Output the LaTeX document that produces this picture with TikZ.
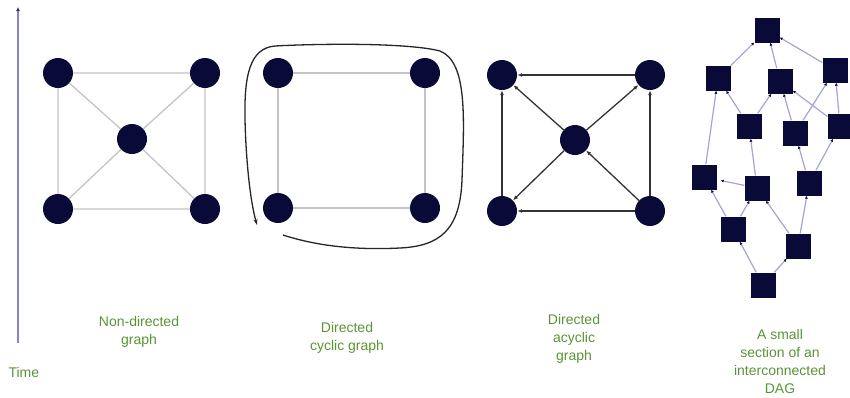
\documentclass[tikz,border=0pt]{standalone}
\usepackage{fontspec}
\setmainfont{Liberation Sans}
\usetikzlibrary{arrows.meta}
\definecolor{navy}{HTML}{0A0A38}
\definecolor{lbl}{HTML}{5A9434}
\definecolor{edgegray}{HTML}{C4C4C4}
\definecolor{dagedge}{HTML}{A4A4D4}
\definecolor{timeaxis}{HTML}{8686C4}
\tikzset{
  dot/.style={circle,fill=navy,minimum size=30pt,inner sep=0pt},
  sq/.style={rectangle,fill=navy,minimum size=25pt,inner sep=0pt},
  ulink/.style={draw=edgegray,line width=1.3pt},
  dlink/.style={draw=black!80,line width=1.3pt,-{Latex[length=5pt,width=4pt]}},
  daglink/.style={draw=dagedge,line width=1.2pt,-{Latex[length=3pt,width=3pt,color=navy]}},
  captxt/.style={text=lbl,font=\fontsize{14}{18}\selectfont,align=center}
}
\begin{document}
\begin{tikzpicture}[x=1pt,y=-1pt]
\useasboundingbox (0,0) rectangle (850,397);
% time axis
\coordinate (t0) at (18,343);
\coordinate (t1) at (18,7);
\draw[timeaxis,line width=1.2pt,-{Latex[length=4pt,width=4pt,color=navy!70!timeaxis]}] (t0) -- (t1);
\node[captxt,anchor=west] (time) at (5,372) {Time};

% graph 1
\node[dot] (a1) at (58,73) {};
\node[dot] (b1) at (205,73) {};
\node[dot] (c1) at (132,139) {};
\node[dot] (d1) at (58,209) {};
\node[dot] (e1) at (205,209) {};
\draw[ulink] (a1) -- (b1) (b1) -- (e1) (e1) -- (d1) (d1) -- (a1)
  (a1) -- (c1) (b1) -- (c1) (d1) -- (c1) (e1) -- (c1);
\node[captxt] (l1) at (139,332) {Non-directed\\graph};

% graph 2
\node[dot] (a2) at (278,73) {};
\node[dot] (b2) at (425,73) {};
\node[dot] (d2) at (278,208) {};
\node[dot] (e2) at (425,208) {};
\draw[ulink] (a2) -- (b2) (b2) -- (e2) (e2) -- (d2) (d2) -- (a2);
\coordinate (cs) at (283,235);
\coordinate (ce) at (257,225);
\draw[black!85,line width=1.3pt,-{Stealth[length=6pt,width=4pt]}] (cs)
  .. controls (320,247) and (360,250) .. (400,248)
  .. controls (440,246) and (460,230) .. (462,180)
  .. controls (464,120) and (468,62) .. (440,51)
  .. controls (405,42) and (310,44) .. (275,46)
  .. controls (250,48) and (244,75) .. (245,120)
  .. controls (246,160) and (250,200) .. (ce);
\node[captxt] (l2) at (347,338) {Directed\\cyclic graph};

% graph 3
\node[dot] (a3) at (502,75) {};
\node[dot] (b3) at (650,75) {};
\node[dot] (c3) at (575,140) {};
\node[dot] (d3) at (502,211) {};
\node[dot] (e3) at (650,211) {};
\draw[dlink] (b3) -- (a3);
\draw[dlink] (c3) -- (a3);
\draw[dlink] (c3) -- (b3);
\draw[dlink] (c3) -- (d3);
\draw[dlink] (e3) -- (c3);
\draw[dlink] (e3) -- (d3);
\draw[dlink] (d3) -- (a3);
\draw[dlink] (e3) -- (b3);
\node[captxt] (l3) at (574,339) {Directed\\acyclic\\graph};

% graph 4
\node[sq] (A) at (767,30) {};
\node[sq] (B) at (718,78) {};
\node[sq] (C) at (780,81) {};
\node[sq] (D) at (835,70) {};
\node[sq] (E) at (749,126) {};
\node[sq] (F) at (795,133) {};
\node[sq] (G) at (840,126) {};
\node[sq] (H) at (704,177) {};
\node[sq] (I) at (757,188) {};
\node[sq] (J) at (809,183) {};
\node[sq] (K) at (733,229) {};
\node[sq] (L) at (798,246) {};
\node[sq] (M) at (763,285) {};
\draw[daglink] (B) -- (A);
\draw[daglink] (C) -- (A);
\draw[daglink] (D) -- (A);
\draw[daglink] (E) -- (B);
\draw[daglink] (E) -- (C);
\draw[daglink] (F) -- (C);
\draw[daglink] (G) -- (C);
\draw[daglink] (F) -- (D);
\draw[daglink] (G) -- (D);
\draw[daglink] (H) -- (B);
\draw[daglink] (I) -- (E);
\draw[daglink,shorten >=4pt] (I) -- (H);
\draw[daglink] (J) -- (F);
\draw[daglink] (J) -- (G);
\draw[daglink] (K) -- (H);
\draw[daglink] (K) -- (I);
\draw[daglink] (L) -- (I);
\draw[daglink] (L) -- (J);
\draw[daglink] (M) -- (K);
\draw[daglink] (M) -- (L);
\node[captxt] (l4) at (780,361) {A small\\section of an\\interconnected\\DAG};
\end{tikzpicture}
\end{document}
